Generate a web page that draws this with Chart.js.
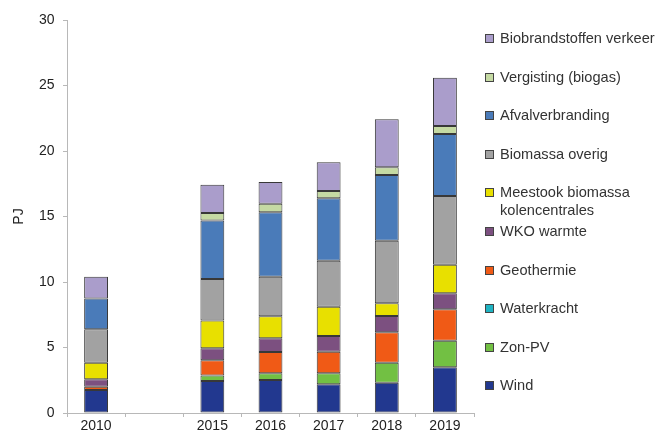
<!DOCTYPE html>
<html lang="nl">
<head>
<meta charset="UTF-8">
<title>Hernieuwbare energie PJ</title>
<script src="https://cdn.jsdelivr.net/npm/chart.js"></script>
<style>
  html, body { margin: 0; padding: 0; background: #fff; }
  #wrap { position: relative; width: 661px; height: 430px; overflow: hidden; font-family: "Liberation Sans", Arial, sans-serif; }
  #legend { position: absolute; left: 0; top: 0; width: 661px; height: 430px; pointer-events: none; }
  .item { position: absolute; left: 485px; font-size: 14.6px; color: #333; line-height: 18px; }
  .box { position: absolute; left: 0; top: 5px; width: 7px; height: 7px; border: 1px solid #444; }
  .txt { position: absolute; left: 15px; top: 0; white-space: nowrap; }
</style>
</head>
<body>
<div id="wrap">
  <canvas id="chart" width="661" height="430"></canvas>
  <div id="legend"></div>
</div>
<script>
// jaren (lege categorie tussen 2010 en 2015)
const years = ['2010', '', '2015', '2016', '2017', '2018', '2019'];

// waarden in PJ, gelezen uit de grafiek
const wind        = [1.75, null, 2.45, 2.52, 2.19, 2.31, 3.49];
const zonPV       = [0,    null, 0.42, 0.51, 0.84, 1.53, 2.03];
const geothermie  = [0.25, null, 1.15, 1.63, 1.65, 2.32, 2.40];
const waterkracht = [0,    null, 0,    0,    0,    0,    0   ];
const wkoWarmte   = [0.57, null, 0.93, 1.04, 1.20, 1.24, 1.22];
const meestook    = [1.27, null, 2.12, 1.68, 2.23, 0.97, 2.18];
const biomassa    = [2.55, null, 3.15, 3.02, 3.52, 4.78, 5.24];
const afval       = [2.36, null, 4.48, 4.92, 4.76, 5.02, 4.74];
const vergisting  = [0,    null, 0.57, 0.66, 0.56, 0.59, 0.60];
const biobrand    = [1.65, null, 2.15, 1.65, 2.19, 3.66, 3.70];

const yTicks = [0, 5, 10, 15, 20, 25, 30];

// stapelvolgorde van onder naar boven
const series = [
  { label: 'Wind', data: wind, color: '#22388f' },
  { label: 'Zon-PV', data: zonPV, color: '#72c043' },
  { label: 'Waterkracht', data: waterkracht, color: '#1fb3c2' },
  { label: 'Geothermie', data: geothermie, color: '#f05a16' },
  { label: 'WKO warmte', data: wkoWarmte, color: '#7c5080' },
  { label: ['Meestook biomassa', 'kolencentrales'], data: meestook, color: '#e8e000' },
  { label: 'Biomassa overig', data: biomassa, color: '#a2a2a2' },
  { label: 'Afvalverbranding', data: afval, color: '#4a7bb9' },
  { label: 'Vergisting (biogas)', data: vergisting, color: '#c5daa3' },
  { label: 'Biobrandstoffen verkeer', data: biobrand, color: '#aa9dcb' }
];

const datasets = series.map(s => ({
  label: Array.isArray(s.label) ? s.label.join(' ') : s.label,
  data: s.data,
  backgroundColor: s.color,
  borderColor: '#383838',
  borderWidth: ctx => (ctx.raw ? 1 : 0),
  borderSkipped: false,
  barPercentage: 0.41,
  categoryPercentage: 1.0
}));

new Chart(document.getElementById('chart'), {
  type: 'bar',
  data: { labels: years, datasets: datasets },
  options: {
    responsive: false,
    animation: false,
    layout: { padding: { left: 0, right: 187, top: 20, bottom: 0 } },
    plugins: { legend: { display: false }, tooltip: { enabled: false } },
    scales: {
      x: {
        stacked: true,
        offset: true,
        grid: { display: true, drawOnChartArea: false, offset: true, tickLength: 4, color: '#b8b8b8' },
        border: { color: '#b8b8b8' },
        ticks: { color: '#222', font: { family: 'Liberation Sans', size: 14 }, padding: 1, maxRotation: 0, autoSkip: false },
        afterFit: s => { s.height = 17; }
      },
      y: {
        stacked: true,
        min: 0,
        max: 30,
        afterBuildTicks: s => { s.ticks = yTicks.map(v => ({ value: v })); },
        grid: { display: true, drawOnChartArea: false, tickLength: 4, color: '#b8b8b8' },
        border: { color: '#b8b8b8' },
        ticks: { color: '#222', font: { family: 'Liberation Sans', size: 14 }, padding: 8.5 },
        title: { display: true, text: 'PJ', color: '#222', font: { family: 'Liberation Sans', size: 14 }, padding: { top: 11, bottom: 0 } },
        afterFit: s => { s.width = 67; }
      }
    }
  }
});

// legenda rechts, omgekeerde volgorde
const legend = document.getElementById('legend');
series.slice().reverse().forEach((s, i) => {
  const el = document.createElement('div');
  el.className = 'item';
  el.style.top = (29 + i * 38.6) + 'px';
  const lines = Array.isArray(s.label) ? s.label : [s.label];
  el.innerHTML = '<span class="box" style="background:' + s.color + '"></span>' +
    '<span class="txt">' + lines.join('<br>') + '</span>';
  legend.appendChild(el);
});
</script>
</body>
</html>
